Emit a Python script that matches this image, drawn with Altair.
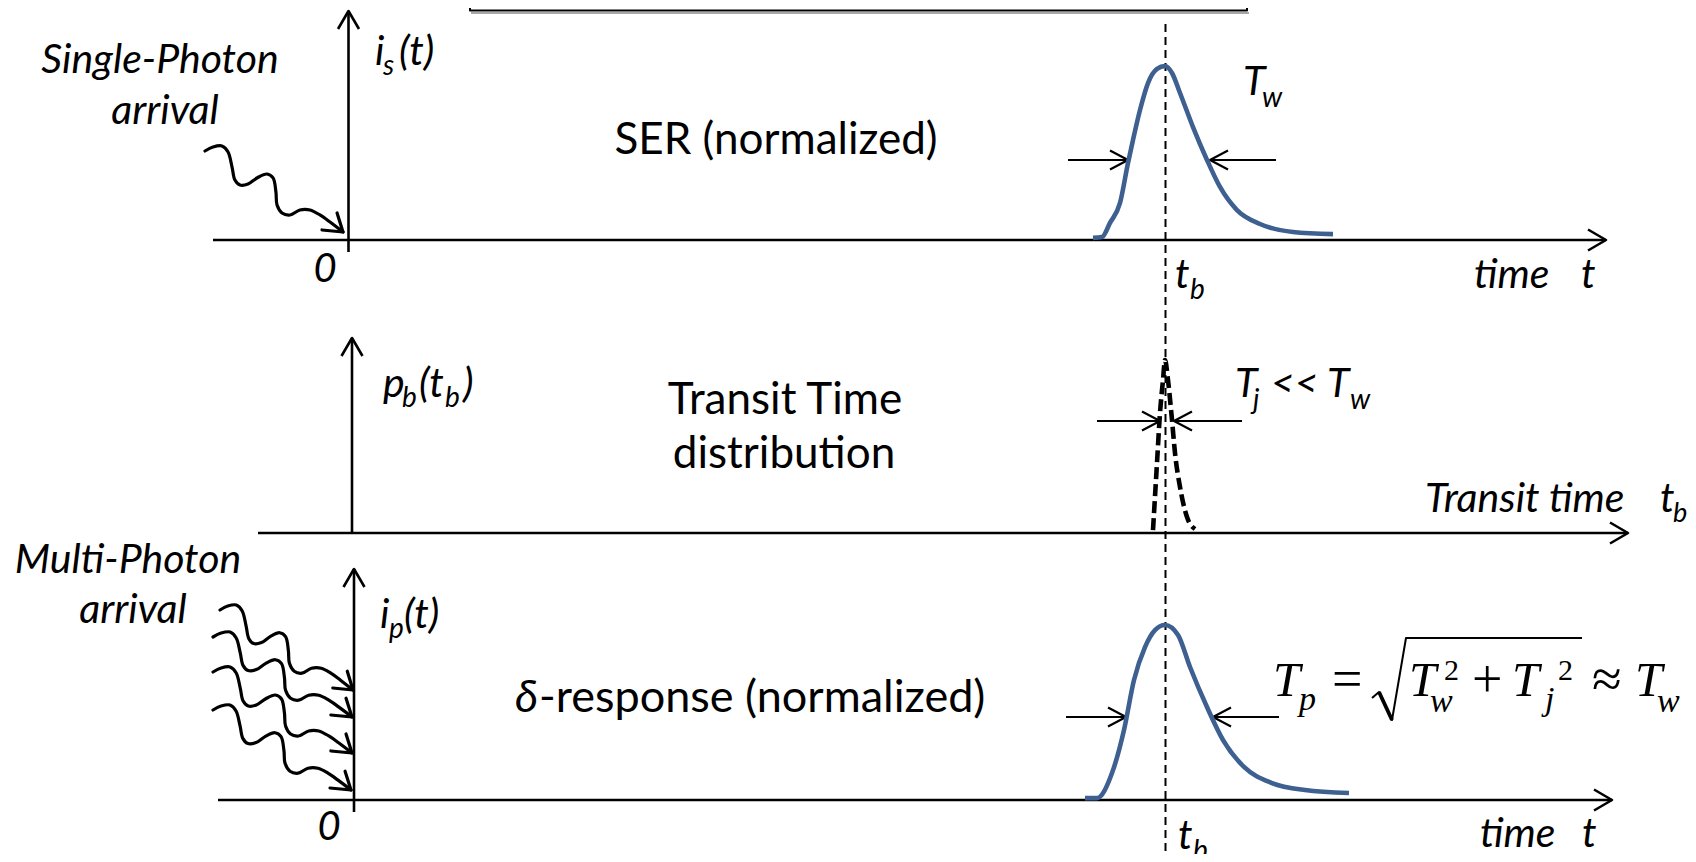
import altair as alt
import pandas as pd

# ---------------- values (diagram units ~ px, y grows downward) ----
# axes: (x_start, y_start, x_tip, y_tip)
AXIS_SEGMENTS = [
    (213, 240, 1606, 240),    # top time axis
    (348.5, 252, 348.5, 11),  # i_s(t) axis
    (258, 533, 1628, 533),    # transit-time axis
    (352, 533, 352, 338),     # p_b(t_b) axis
    (218, 800, 1612, 800),    # bottom time axis
    (354, 812, 354, 569),     # i_p(t) axis
]
AXIS_HEAD = (18, 10.5)        # length, half width

# width markers: (tail_x, tip_x, y)
WIDTH_ARROWS = [
    (1068, 1128, 160), (1276, 1210, 160),
    (1097, 1160, 421), (1242, 1174, 421),
    (1066, 1126, 717), (1279, 1213, 717),
]
WIDTH_HEAD = (18, 9.5)

# pulses: offset from the peak time t_b, normalized amplitude
PEAK_X = 1165
SER_DT = [-72, -63, -55, -45, -37, -32, -25, -17, -8, 0, 7, 15, 28, 42, 55, 72, 95, 128, 168]
SER_AMP = [0.012, 0.017, 0.098, 0.213, 0.443, 0.575, 0.747, 0.902, 0.983, 1.0, 0.96, 0.845,
           0.649, 0.46, 0.305, 0.172, 0.092, 0.046, 0.034]
SER_BASE, SER_H = 240, 174

TTS_DT = [-12, -8, -5, -2, 0, 3, 7, 10, 15, 22, 30]
TTS_AMP = [0.017, 0.405, 0.694, 0.884, 1.0, 0.884, 0.653, 0.462, 0.266, 0.092, 0.023]
TTS_BASE, TTS_H = 533, 173

DLT_DT = [-80, -68, -53, -41, -31, -20, -10, 0, 13, 25, 42, 58, 79, 107, 140, 184]
DLT_AMP = [0.011, 0.011, 0.154, 0.40, 0.686, 0.874, 0.971, 1.0, 0.943, 0.76, 0.531, 0.343,
           0.189, 0.097, 0.057, 0.04]
DLT_BASE, DLT_H = 800, 175

TB_LINE = (1165.5, 24, 875)   # x, y_top, y_bottom of the dashed t_b line

# photon wiggle: normalized path (0,0) start -> (1,1) tip, plus arrow-head wings
WAVE_U = [0, 0.058, 0.123, 0.167, 0.196, 0.217, 0.254, 0.312, 0.377, 0.449, 0.493, 0.514,
          0.522, 0.558, 0.616, 0.688, 0.761, 0.833, 0.906, 1.0]
WAVE_V = [0, -0.049, -0.062, 0.012, 0.198, 0.358, 0.420, 0.407, 0.333, 0.284, 0.333, 0.506,
          0.667, 0.765, 0.790, 0.728, 0.728, 0.790, 0.877, 1.0]
WAVE_WINGS = [(0.848, 0.975), (0.957, 0.765)]
WAVE_START = [(205, 151), (220, 610), (213, 637), (213, 672), (213, 710)]
WAVE_TIP = [(343, 232), (353, 690), (352, 717), (352, 753), (351, 790)]

# framed box at the top (only its lower part is visible)
BOX = [(470, -6), (470, 10.5), (1247, 10.5), (1247, -6)]
BOX_SHADOW = [(471, 13), (1249, 13)]

# square-root sign of the formula
SQRT_THIN = [(1372, 698), (1379, 692), (1392, 720), (1406, 638), (1582, 638)]
SQRT_THICK = [(1379, 692), (1392, 720)]

# text: (text, x, baseline_y, size)
SANS_ITALIC_CENTER = [
    ("Single-Photon", 160, 73, 41), ("arrival", 165, 124, 41),
    ("Multi-Photon", 128, 573, 41), ("arrival", 133, 623, 41),
    ("0", 325, 282, 40), ("0", 329, 840, 40),
]
SANS_ITALIC_LEFT = [
    ("i", 375, 65, 41), ("s", 383, 75, 28), ("(t)", 399, 65, 41),
    ("T", 1243, 95, 41), ("w", 1262, 107, 28),
    ("t", 1175, 288, 41), ("b", 1190, 299, 28),
    ("time", 1474, 288, 41), ("t", 1581, 288, 41),
    ("p", 383, 397, 41), ("b", 402, 407, 28), ("(t", 419, 397, 41), ("b", 445, 407, 28),
    (")", 463, 397, 41),
    ("T", 1235, 397, 41), ("j", 1253, 409, 28), ("<<", 1271, 397, 41), ("T", 1327, 397, 41),
    ("w", 1350, 409, 28),
    ("Transit time", 1425, 512, 41), ("t", 1660, 512, 41), ("b", 1673, 522, 27),
    ("i", 380, 628, 41), ("p", 389, 638, 28), ("(t)", 404, 628, 41),
    ("δ", 515, 712, 45),
    ("t", 1178, 849, 41), ("b", 1193, 860, 28),
    ("time", 1480, 847, 41), ("t", 1582, 847, 41),
]
SANS_CENTER = [
    ("SER (normalized)", 776, 154, 44),
    ("Transit Time", 785, 414, 44),
    ("distribution", 784, 468, 44),
]
SANS_LEFT = [("-response (normalized)", 539, 712, 45)]
SERIF_ITALIC = [
    ("T", 1273, 696, 49), ("p", 1299, 710, 34),
    ("T", 1409, 696, 49), ("w", 1430, 712, 34),
    ("T", 1512, 696, 49), ("j", 1545, 710, 34),
    ("T", 1635, 696, 49), ("w", 1657, 712, 34),
]
SERIF_UPRIGHT = [
    ("=", 1332, 697, 54), ("2", 1444, 680, 30), ("+", 1472, 697, 54),
    ("2", 1558, 680, 30), ("≈", 1592, 697, 54),
]

BLUE = "#3E6091"

# ---------------- build tables ----------------
def add_path(rows, pid, pts):
    for i, (x, y) in enumerate(pts):
        rows.append({"x": x, "y": y, "pid": pid, "o": i})


def head(x0, y0, x1, y1, length, half):
    dx, dy = x1 - x0, y1 - y0
    n = (dx * dx + dy * dy) ** 0.5
    ux, uy = dx / n, dy / n
    bx, by = x1 - length * ux, y1 - length * uy
    return [(bx - half * uy, by + half * ux), (x1, y1), (bx + half * uy, by - half * ux)]


axis_rows = []
for k, (x0, y0, x1, y1) in enumerate(AXIS_SEGMENTS):
    add_path(axis_rows, f"a{k}", [(x0, y0), (x1, y1)])
    add_path(axis_rows, f"ah{k}", head(x0, y0, x1, y1, *AXIS_HEAD))

dim_rows = []
for k, (xt, xh, y) in enumerate(WIDTH_ARROWS):
    add_path(dim_rows, f"d{k}", [(xt, y), (xh, y)])
    add_path(dim_rows, f"dh{k}", head(xt, y, xh, y, *WIDTH_HEAD))

pulse_rows = []
add_path(pulse_rows, "ser", [(PEAK_X + d, SER_BASE - a * SER_H) for d, a in zip(SER_DT, SER_AMP)])
add_path(pulse_rows, "dlt", [(PEAK_X + d, DLT_BASE - a * DLT_H) for d, a in zip(DLT_DT, DLT_AMP)])
tts_rows = []
add_path(tts_rows, "tts", [(PEAK_X + d, TTS_BASE - a * TTS_H) for d, a in zip(TTS_DT, TTS_AMP)])

tb_rows = []
add_path(tb_rows, "tb", [(TB_LINE[0], TB_LINE[1]), (TB_LINE[0], TB_LINE[2])])

wave_rows, wing_rows = [], []
for k, ((sx, sy), (tx, ty)) in enumerate(zip(WAVE_START, WAVE_TIP)):
    w, h = tx - sx, ty - sy
    add_path(wave_rows, f"w{k}", [(sx + u * w, sy + v * h) for u, v in zip(WAVE_U, WAVE_V)])
    (u1, v1), (u2, v2) = WAVE_WINGS
    add_path(wing_rows, f"wh{k}", [(sx + u1 * w, sy + v1 * h), (tx, ty), (sx + u2 * w, sy + v2 * h)])

box_rows = []
add_path(box_rows, "box", BOX)
shadow_rows = []
add_path(shadow_rows, "sh", BOX_SHADOW)
sqrt_rows = []
add_path(sqrt_rows, "sq", SQRT_THIN)
sqrt_thick_rows = []
add_path(sqrt_thick_rows, "sqt", SQRT_THICK)


def tdf(items):
    return pd.DataFrame([{"t": t, "x": x, "y": y, "s": s} for t, x, y, s in items])


# ---------------- chart ----------------
W, H = 1680, 846
X = alt.X("x:Q", scale=alt.Scale(domain=[8, 8 + W], nice=False, zero=False), axis=None)
Y = alt.Y("y:Q", scale=alt.Scale(domain=[8, 8 + H], nice=False, zero=False, reverse=True), axis=None)


def lines(rows, width, color="black", dash=None, cap="butt", interp="linear"):
    kw = dict(strokeWidth=width, color=color, strokeCap=cap, strokeJoin="round", interpolate=interp)
    if dash:
        kw["strokeDash"] = dash
    return alt.Chart(pd.DataFrame(rows)).mark_line(**kw).encode(
        x=X, y=Y, detail="pid:N", order="o:Q")


def texts(items, font, style, align):
    return alt.Chart(tdf(items)).mark_text(
        font=font, fontStyle=style, align=align, baseline="alphabetic", color="black"
    ).encode(x=X, y=Y, text="t:N", size=alt.Size("s:Q", scale=None))


layers = [
    lines(shadow_rows, 1.5, color="#8a8a8a"),
    lines(box_rows, 2),
    lines(tb_rows, 2, dash=[8, 5]),
    lines(axis_rows, 2.6),
    lines(dim_rows, 2.2),
    lines(wave_rows, 3.2, cap="round", interp="catmull-rom"),
    lines(wing_rows, 3.2, cap="round"),
    lines(pulse_rows, 4.6, color=BLUE, interp="monotone"),
    lines(tts_rows, 4.6, dash=[12, 5], interp="monotone"),
    lines(sqrt_rows, 2),
    lines(sqrt_thick_rows, 3.8),
    texts(SANS_ITALIC_CENTER, "Lato", "italic", "center"),
    texts(SANS_ITALIC_LEFT, "Lato", "italic", "left"),
    texts(SANS_CENTER, "Lato", "normal", "center"),
    texts(SANS_LEFT, "Lato", "normal", "left"),
    texts(SERIF_ITALIC, "Liberation Serif", "italic", "left"),
    texts(SERIF_UPRIGHT, "Liberation Serif", "normal", "left"),
]

chart = alt.layer(*layers).properties(
    width=W, height=H, padding=0,
    autosize=alt.AutoSizeParams(type="none"),
    background="white",
).configure_view(stroke=None)

chart.save("out.html", embed_options={"renderer": "svg", "actions": False})
